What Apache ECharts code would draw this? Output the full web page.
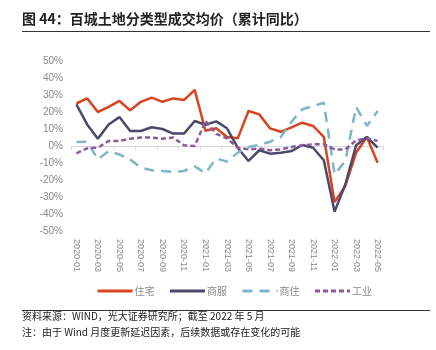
<!DOCTYPE html>
<html>
<head>
<meta charset="utf-8">
<script src="https://cdn.jsdelivr.net/npm/echarts@6/dist/echarts.min.js"></script>
<style>
  html, body { margin: 0; padding: 0; background: #fff; }
  #chart { width: 436px; height: 350px; }
</style>
</head>
<body>
<div id="chart"></div>
<script>
  // 月份 2020-01 .. 2022-05
  var months = [];
  for (var y = 2020; y <= 2022; y++) {
    for (var m = 1; m <= 12; m++) {
      if (y === 2022 && m > 5) break;
      months.push(y + '-' + (m < 10 ? '0' + m : m));
    }
  }

  var residential = [25, 28, 20, 23, 26.5, 21, 26, 28.5, 26, 28, 27, 33, 9, 10.4, 5.3, 4.5, 20.6, 18.6, 10.4, 8.4, 11, 13.7, 11.8, 5.3, -33, -23.5, -4, 5.3, -9.8];
  var commercial = [24.5, 12.7, 4.3, 12.7, 17, 8.8, 8.8, 11, 10, 7.3, 7.3, 14.7, 12.5, 14.5, 10.4, -1, -8.8, -2.5, -4.5, -4, -3, 0.6, -1, -8.4, -38.6, -22.5, 0.4, 5.3, -1];
  var mixedUse = [2.4, 2.5, -7.8, -3, -5, -8, -12.7, -14.3, -14.7, -15.3, -14.7, -12, -16, -7.3, -9.2, -3.9, -0.6, 0.6, 2.5, 5.3, 14.3, 21.6, 23.5, 25.5, -16.7, -8.8, 23, 11.8, 20.6];
  var industrial = [-4.3, -1.4, -1, 3, 3, 4.3, 5, 5, 4.3, 5, 0.4, 0, 14.7, 7.1, 4.5, -1, -2, -1.5, -2.5, -2, -0.6, 0.4, 1, 1, -2, -2, 3.3, 4.5, 3];

  var chart = echarts.init(document.getElementById('chart'));

  function mkSeries(name, data, color, type) {
    return {
      name: name,
      type: 'line',
      data: data,
      symbol: 'none',
      lineStyle: { color: color, width: 2.5, type: type },
      itemStyle: { color: color }
    };
  }

  chart.setOption({
    animation: false,
    textStyle: { fontFamily: '"Liberation Sans", "Noto Sans CJK SC", sans-serif' },
    grid: { left: 71, right: 53, top: 61, bottom: 119 },
    legend: {
      top: 281,
      left: 91,
      itemWidth: 35,
      itemHeight: 12,
      itemGap: 14,
      itemStyle: { opacity: 0 },
      lineStyle: { width: 3 },
      textStyle: { color: '#888', fontSize: 10, padding: [0, 0, 0, -3], fontFamily: '"Noto Sans CJK SC", sans-serif' },
      data: ['住宅', '商服', '商住', '工业']
    },
    xAxis: {
      type: 'category',
      data: months,
      boundaryGap: true,
      axisLine: { lineStyle: { color: '#d9d9d9' } },
      axisTick: { show: true, interval: 1, length: 4, lineStyle: { color: '#d9d9d9' } },
      axisLabel: { interval: 1, rotate: -90, color: '#888', fontSize: 9, margin: 8 },
      splitLine: { show: false }
    },
    yAxis: {
      type: 'value',
      min: -50,
      max: 50,
      interval: 10,
      axisLine: { show: false },
      axisTick: { show: false },
      splitLine: { show: false },
      axisLabel: { color: '#888', fontSize: 10, margin: 8, formatter: '{value}%' }
    },
    series: [
      mkSeries('住宅', residential, '#d6451f', 'solid'),
      mkSeries('商服', commercial, '#4b4a6c', 'solid'),
      mkSeries('商住', mixedUse, '#7fb5cb', [10, 7]),
      mkSeries('工业', industrial, '#8b5a9c', [5, 3])
    ],
    graphic: [
      {
        type: 'text', left: 22, top: 12,
        style: { text: '图 44：百城土地分类型成交均价（累计同比）', fill: '#222', font: 'bold 14px "Noto Sans CJK SC", sans-serif' }
      },
      {
        type: 'line', shape: { x1: 22, y1: 31.5, x2: 430, y2: 31.5 },
        style: { stroke: '#333', lineWidth: 1 }
      },
      {
        type: 'line', shape: { x1: 22, y1: 310.5, x2: 430, y2: 310.5 },
        style: { stroke: '#333', lineWidth: 1 }
      },
      {
        type: 'text', left: 22, top: 311,
        style: { text: '资料来源：WIND，光大证券研究所；截至 2022 年 5 月', fill: '#222', font: '10px "Noto Sans CJK SC", sans-serif' }
      },
      {
        type: 'text', left: 22, top: 327,
        style: { text: '注：由于 Wind 月度更新延迟因素，后续数据或存在变化的可能', fill: '#222', font: '10px "Noto Sans CJK SC", sans-serif' }
      }
    ]
  });
</script>
</body>
</html>
